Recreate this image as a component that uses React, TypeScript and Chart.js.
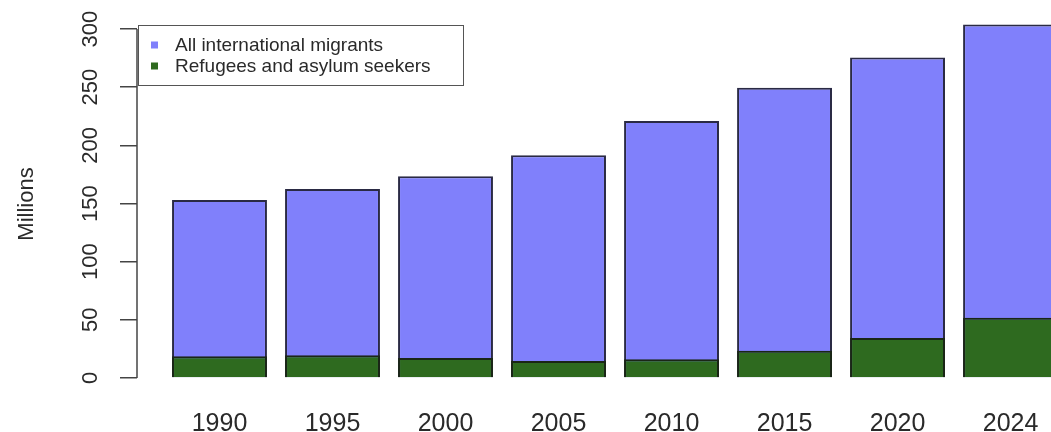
import React, { useEffect, useRef } from "react";
import { Chart, registerables } from "chart.js";

Chart.register(...registerables);

const years = ["1990", "1995", "2000", "2005", "2010", "2015", "2020", "2024"];
const allMigrants = [153, 162.5, 173.5, 191.5, 221, 249.5, 275.5, 304];
const refugees = [18.8, 19.5, 17.2, 14.6, 16.2, 23.4, 34.4, 51.8];
const yTicks = [0, 50, 100, 150, 200, 250, 300];
const seriesLabels = ["All international migrants", "Refugees and asylum seekers"];

const BLUE = "#8080fb";
const GREEN = "#2e6a1f";
const FONT = '"Liberation Sans", Arial, sans-serif';

const customDraw = {
  id: "customDraw",
  afterDraw(chart: any) {
    const ctx = chart.ctx;
    const y = chart.scales.y;
    const area = chart.chartArea;
    ctx.save();
    // axis line from 0 to 300
    ctx.strokeStyle = "#444";
    ctx.lineWidth = 1.5;
    ctx.beginPath();
    ctx.moveTo(area.left, y.getPixelForValue(yTicks[0]));
    ctx.lineTo(area.left, y.getPixelForValue(yTicks[yTicks.length - 1]));
    ctx.stroke();
    // tick labels, rotated
    ctx.fillStyle = "#2a2a2a";
    ctx.font = `22px ${FONT}`;
    ctx.textAlign = "center";
    ctx.textBaseline = "alphabetic";
    for (const v of yTicks) {
      ctx.save();
      ctx.translate(97, y.getPixelForValue(v));
      ctx.rotate(-Math.PI / 2);
      ctx.fillText(String(v), 0, 0);
      ctx.restore();
    }
    // axis title
    ctx.save();
    ctx.font = `22px ${FONT}`;
    ctx.translate(33, 204);
    ctx.rotate(-Math.PI / 2);
    ctx.fillText("Millions", 0, 0);
    ctx.restore();
    // legend
    const lx = 138, ly = 25, lw = 325, lh = 60;
    ctx.fillStyle = "#fff";
    ctx.fillRect(lx, ly, lw, lh);
    ctx.strokeStyle = "#555";
    ctx.lineWidth = 1;
    ctx.strokeRect(lx + 0.5, ly + 0.5, lw, lh);
    const ds = chart.data.datasets;
    const order = [1, 0];
    const rows = [45, 66];
    ctx.font = `19px ${FONT}`;
    ctx.textAlign = "left";
    order.forEach((di, i) => {
      ctx.fillStyle = ds[di].backgroundColor;
      ctx.fillRect(151, rows[i] - 3.5, 7, 7);
      ctx.fillStyle = "#2a2a2a";
      ctx.fillText(ds[di].label, 175, rows[i] + 6);
    });
    ctx.restore();
  },
};

export default function App() {
  const ref = useRef<HTMLCanvasElement>(null);
  useEffect(() => {
    const chart = new Chart(ref.current!, {
      type: "bar",
      data: {
        datasets: [
          {
            label: seriesLabels[1],
            data: refugees.map((v, i) => ({ x: i, y: v })),
            backgroundColor: GREEN,
            borderColor: "#1a2616",
            borderWidth: 2,
            order: 0,
          },
          {
            label: seriesLabels[0],
            data: allMigrants.map((v, i) => ({ x: i, y: v })),
            backgroundColor: BLUE,
            borderColor: "#2a2a44",
            borderWidth: 2,
            order: 1,
          },
        ],
      },
      options: {
        responsive: false,
        animation: false,
        events: [],
        layout: { padding: 0 },
        datasets: { bar: { grouped: false, barPercentage: 0.84, categoryPercentage: 1 } } as any,
        plugins: { legend: { display: false }, tooltip: { enabled: false } },
        scales: {
          x: {
            type: "linear",
            offset: false,
            min: -0.73,
            max: 7.358,
            grid: { display: false, offset: false },
            border: { display: false },
            afterBuildTicks: (s: any) => {
              s.ticks = years.map((_, i) => ({ value: i }));
            },
            afterFit: (s: any) => {
              s.height = 54;
              s.paddingLeft = 0;
              s.paddingRight = 0;
            },
            ticks: {
              autoSkip: false,
              maxRotation: 0,
              padding: 23,
              color: "#2a2a2a",
              font: { size: 25, family: FONT },
              callback: (v: any) => years[v] ?? "",
            },
          },
          y: {
            min: 0,
            max: 325,
            border: { display: false },
            grid: { drawOnChartArea: false, tickLength: 17, color: "#444", lineWidth: 1.5 },
            afterBuildTicks: (s: any) => {
              s.ticks = yTicks.map((v) => ({ value: v }));
            },
            afterFit: (s: any) => {
              s.width = 137;
            },
            ticks: { display: false },
          },
        },
      },
      plugins: [customDraw],
    });
    return () => chart.destroy();
  }, []);
  return (
    <div style={{ position: "fixed", left: 0, top: 0, width: 1051, height: 432, background: "#fff" }}>
      <canvas ref={ref} width={1051} height={432} />
    </div>
  );
}
